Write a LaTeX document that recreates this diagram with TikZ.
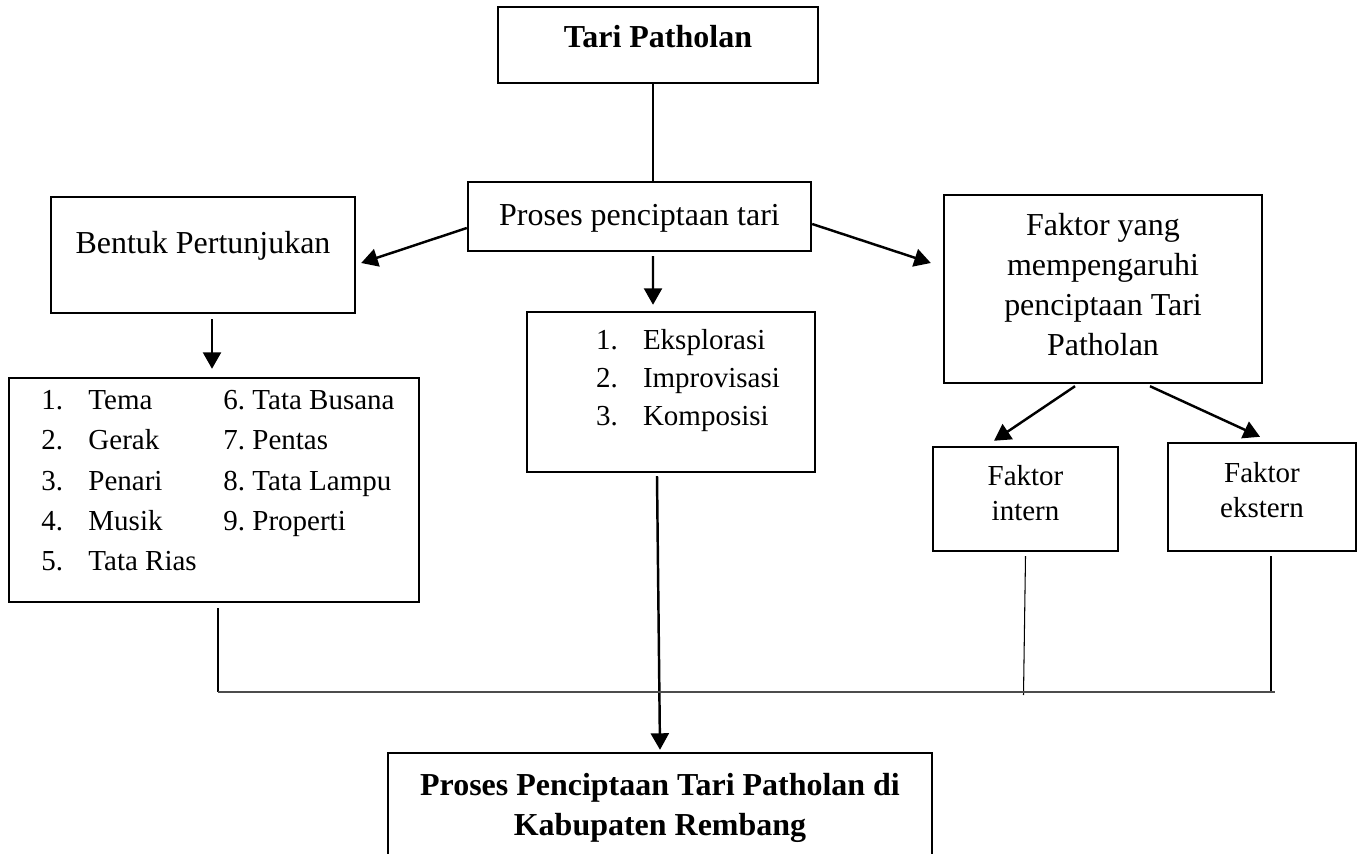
\documentclass[tikz,border=0pt]{standalone}
\usepackage{fontspec}
\setmainfont{Liberation Serif}
\usetikzlibrary{arrows.meta}
\usetikzlibrary{calc}

\begin{document}
\begin{tikzpicture}[x=0.02cm, y=-0.02cm, align=center]

\tikzstyle{box} = [rectangle, draw=black, line width=1.4pt, inner sep=0pt, font=\fontsize{18.2}{22.8}\selectfont]
\tikzstyle{smallbox} = [box, font=\fontsize{16.5}{19.9}\selectfont]
\tikzstyle{arrow} = [line width=1.4pt, -{Triangle[length=0.33cm,width=0.36cm]}]
\tikzstyle{link} = [line width=0.6pt]
\tikzstyle{joinline} = [line width=0.8pt, draw=black!70]

\clip (0,0) rectangle (1365,854);

\node (tari) [box, minimum width=6.4cm, minimum height=1.52cm, text height=0.44cm, text depth=0.32cm] at (658,45) {\textbf{Tari Patholan}};
\node (proses) [box, minimum width=6.86cm, minimum height=1.38cm, text height=0.44cm, text depth=0.06cm] at (639.5,216.5) {Proses penciptaan tari};
\node (bentuk) [box, minimum width=6.08cm, minimum height=2.32cm, text height=0.44cm, text depth=0.48cm] at (203,255) {Bentuk Pertunjukan};
\node (unsur) [box, minimum width=8.2cm, minimum height=4.48cm, font=\fontsize{16.5}{22.8}\selectfont] at (214,490) {%
\begin{tabular}{@{\hspace{0.16cm}}p{0.94cm}@{}p{2.7cm}@{}l@{}}
1. & Tema & 6.\ Tata Busana\\
2. & Gerak & 7.\ Pentas\\
3. & Penari & 8.\ Tata Lampu\\
4. & Musik & 9.\ Properti\\
5. & Tata Rias & \\[0.32cm]
\end{tabular}};
\node (ekspl) [box, minimum width=5.76cm, minimum height=3.2cm, font=\fontsize{16.5}{21.6}\selectfont] at (671,392) {%
\begin{tabular}{@{\hspace{0.68cm}}p{0.94cm}@{}l@{}}
1. & Eksplorasi\\
2. & Improvisasi\\
3. & Komposisi\\[0.5cm]
\end{tabular}};
\node (faktor) [box, minimum width=6.36cm, minimum height=3.76cm] at (1103,289) {Faktor yang\\mempengaruhi\\penciptaan Tari\\Patholan\rule[-0.2cm]{0pt}{0pt}};
\node (intern) [smallbox, minimum width=3.7cm, minimum height=2.08cm] at (1025.5,499) {Faktor\\intern\rule[-0.26cm]{0pt}{0pt}};
\node (ekstern) [smallbox, minimum width=3.76cm, minimum height=2.16cm] at (1262,497) {Faktor\\ekstern\rule[-0.3cm]{0pt}{0pt}};
\node (hasil) [box, minimum width=10.88cm, minimum height=2.2cm, font=\bfseries\fontsize{18.2}{22.8}\selectfont] at (660,808) {Proses Penciptaan Tari Patholan di\\Kabupaten Rembang};

\coordinate (tp) at ($(tari.south)+(-5,0)$);
\coordinate (jl) at (218,692);
\coordinate (jr) at (1275,692);
\coordinate (ek) at ($(ekstern.south)+(9,4)$);

\draw [link] (tp) -- (tp |- proses.north);
\draw [arrow] ($(proses.south)+(13.5,4)$) -- ($(ekspl.north)+(-18,-6)$);
\draw [arrow] ($(proses.west)+(0,11.5)$) -- ($(bentuk.east)+(5,8)$);
\draw [arrow] ($(proses.east)+(0,7.5)$) -- ($(faktor.west)+(-12,-26)$);
\draw [arrow] ($(bentuk.south)+(9,5)$) -- ($(unsur.north)+(-2,-8)$);
\draw [arrow] ($(faktor.south)+(-28,2)$) -- ($(intern.north)+(-31.5,-5)$);
\draw [arrow] ($(faktor.south)+(47,2)$) -- ($(ekstern.north)+(-2,-5)$);
\draw [arrow] ($(ekspl.south)+(-14,3)$) -- ($(hasil.north)+(0,-2)$);

\draw [link] ($(unsur.south)+(4,5)$) -- (jl);
\draw [link] ($(intern.south)+(0,4)$) -- ($(intern.south |- jl)+(-2,3)$);
\draw [link] (ek) -- (ek |- jl);
\draw [joinline] (jl) -- (jr);
\end{tikzpicture}
\end{document}
